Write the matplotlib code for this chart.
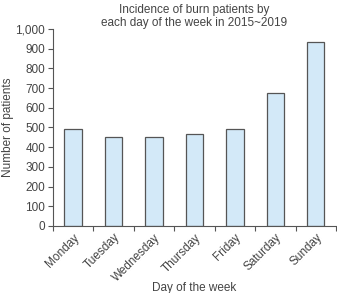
import numpy as np
import matplotlib
matplotlib.use("Agg")
import matplotlib.pyplot as plt
from matplotlib.ticker import FuncFormatter

plt.rcParams['font.family'] = ['Liberation Sans', 'DejaVu Sans']

# data
days = ["Monday", "Tuesday", "Wednesday", "Thursday", "Friday", "Saturday", "Sunday"]
patients = [490, 452, 452, 466, 490, 674, 932]

txt = "#444444"

fig = plt.figure(figsize=(3.37, 2.93), dpi=100)
ax = fig.add_axes([0.157, 0.229, 0.840, 0.672])

x = np.arange(len(days))
ax.bar(x, patients, width=0.43, color="#d3e9f8", edgecolor="#555555", linewidth=0.9)

ax.set_xlim(-0.5, len(days) - 0.5)
ax.set_ylim(0, 1000)
ax.set_yticks(range(0, 1001, 100))
ax.yaxis.set_major_formatter(FuncFormatter(lambda v, p: f"{int(v):,}"))

# category labels at centres, tick marks at boundaries
ax.set_xticks(x)
ax.set_xticklabels(days, rotation=45, ha="right", rotation_mode="anchor")
ax.tick_params(axis="x", which="major", length=0, pad=4)
ax.set_xticks(np.arange(-0.5, len(days), 1), minor=True)
ax.tick_params(axis="x", which="minor", length=3.5, width=0.8, color="#555555")
ax.tick_params(axis="y", length=3.5, width=0.8, color="#555555", pad=2)
ax.tick_params(labelsize=8.5, labelcolor=txt)

for s in ["top", "right"]:
    ax.spines[s].set_visible(False)
for s in ["left", "bottom"]:
    ax.spines[s].set_color("#555555")
    ax.spines[s].set_linewidth(0.8)

ax.set_title("Incidence of burn patients by\neach day of the week in 2015~2019",
             fontsize=8.5, color=txt, pad=2, linespacing=1.15)
ax.set_ylabel("Number of patients", fontsize=8.5, color=txt, labelpad=1)
ax.set_xlabel("Day of the week", fontsize=8.5, color=txt, labelpad=-1)

plt.savefig("out.png", dpi=100)
